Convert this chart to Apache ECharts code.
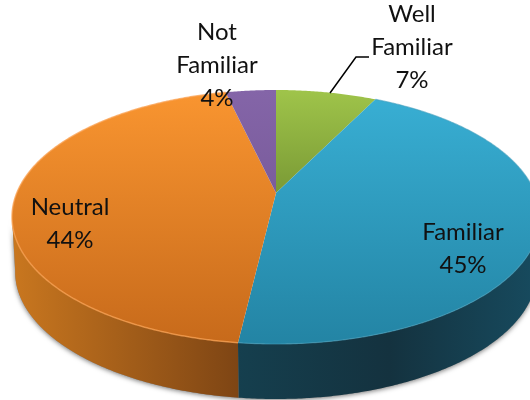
<!DOCTYPE html>
<html>
<head>
<meta charset="utf-8">
<style>html,body{margin:0;padding:0;background:#fff}#c{width:530px;height:400px}</style>
<script src="https://cdn.jsdelivr.net/npm/echarts@6/dist/echarts.min.js"></script>
</head>
<body>
<div id="c"></div>
<script>
const categories = ['Well Familiar', 'Familiar', 'Neutral', 'Not Familiar'];
const values = [7.4, 44.5, 44.4, 3.7];

const topColors = [['#9fc44a', '#7a9a35'], ['#38aed3', '#2384a4'], ['#f99530', '#c76a1b'], ['#8465a8', '#7a5c9c']];
const wallColors = [['#6f8a30', '#5f7a28'], ['#174b5f', '#14323f', '#153f4e'], ['#c9771f', '#7e4514'], ['#5a4275', '#5a4275']];
const labelAnchors = [[412, 47], [463, 249], [70, 224], [217, 65]];

const geo = { cx: 276, cy: 217, rx: 264, ry: 127, apexY: 193, depth: 55, taper: 0.988 };
const e = (geo.cy - geo.apexY) / geo.ry;
const total = values.reduce((a, b) => a + b, 0);

function rim(deg) {
  const r = deg * Math.PI / 180, x = Math.sin(r), y = Math.cos(r), d = 1 + e * y;
  const px = x * Math.sqrt(1 - e * e) / d, py = (y + e) / d;
  return [geo.cx + geo.rx * px, geo.cy - geo.ry * py, py];
}
function range(i) {
  let s = 0;
  for (let k = 0; k < i; k++) s += values[k];
  return [s / total * 360, (s + values[i]) / total * 360];
}
function rimPoints(a, b) {
  const out = [], n = Math.max(4, Math.ceil(b - a) * 2);
  for (let k = 0; k <= n; k++) out.push(rim(a + (b - a) * k / n));
  return out;
}
function grad(x, y, x2, y2, cols) {
  return { type: 'linear', global: true, x, y, x2, y2,
    colorStops: cols.map((c, k) => ({ offset: k / (cols.length - 1), color: c })) };
}
function frontBand(pts) {
  const front = pts.filter(p => p[2] <= 0.02).map(p => [p[0], p[1]]);
  if (front.length < 2) return null;
  const lower = front.slice().reverse().map(p => [geo.cx + (p[0] - geo.cx) * geo.taper, p[1] + geo.depth]);
  return front.concat(lower);
}

function renderShadow(params) {
  if (params.dataIndex !== 0) return { type: 'group', children: [] };
  const band = frontBand(rimPoints(0, 360).sort((a, b) => a[0] - b[0]));
  return { type: 'polygon', shape: { points: band },
    style: { fill: '#888', shadowBlur: 5, shadowColor: 'rgba(0,0,0,0.55)', shadowOffsetY: 1 } };
}
function renderWall(params) {
  const i = params.dataIndex, [a, b] = range(i);
  const band = frontBand(rimPoints(a, b));
  if (!band) return { type: 'group', children: [] };
  const xs = band.map(p => p[0]);
  return { type: 'polygon', shape: { points: band },
    style: { fill: grad(Math.min(...xs), 0, Math.max(...xs), 0, i === 1 ? wallColors[i].slice().reverse() : wallColors[i]) } };
}
function renderTop(params) {
  const i = params.dataIndex, [a, b] = range(i);
  const pts = rimPoints(a, b);
  const ys = pts.map(p => p[1]).concat(geo.apexY);
  const y0 = Math.min(...ys), y1 = Math.max(...ys);
  const rimLine = pts.map(p => [p[0], p[1]]);
  const children = [
    { type: 'polygon', shape: { points: [[geo.cx, geo.apexY]].concat(rimLine) },
      style: { fill: grad(0, y0, 0, y1, topColors[i]) } }
  ];
  if (i === 2) children.push({ type: 'polyline', shape: { points: rimLine },
    style: { fill: 'none', stroke: 'rgba(250,160,80,0.75)', lineWidth: 1.5 } });
  if (i === 1) children.push({ type: 'polyline', shape: { points: rimLine },
    style: { fill: 'none', stroke: 'rgba(70,160,190,0.6)', lineWidth: 1.2 } });
  return { type: 'group', children };
}
function renderLabel(params, api) {
  const i = params.dataIndex;
  const text = categories[i].replace(' ', '\n') + '\n' + Math.round(api.value(0) / total * 100) + '%';
  const children = [{ type: 'text', style: { text, x: labelAnchors[i][0], y: labelAnchors[i][1],
    align: 'center', verticalAlign: 'middle', fontFamily: 'Lato', fontSize: 24, lineHeight: 33, fill: '#111' } }];
  if (i === 0) children.push({ type: 'polyline', shape: { points: [[330, 93], [356, 57], [369, 57]] },
    style: { fill: 'none', stroke: '#000', lineWidth: 1.5 } });
  return { type: 'group', children };
}

const data = values.map((v, i) => ({ name: categories[i], value: v }));
const layer = (fn, z) => ({ type: 'custom', coordinateSystem: 'none', renderItem: fn, data, z, silent: true, animation: false });
const chart = echarts.init(document.getElementById('c'), null, { renderer: 'canvas' });
chart.setOption({
  backgroundColor: '#fff', animation: false,
  series: [layer(renderShadow, 1), layer(renderWall, 2), layer(renderTop, 3), layer(renderLabel, 4)]
});
</script>
</body>
</html>
